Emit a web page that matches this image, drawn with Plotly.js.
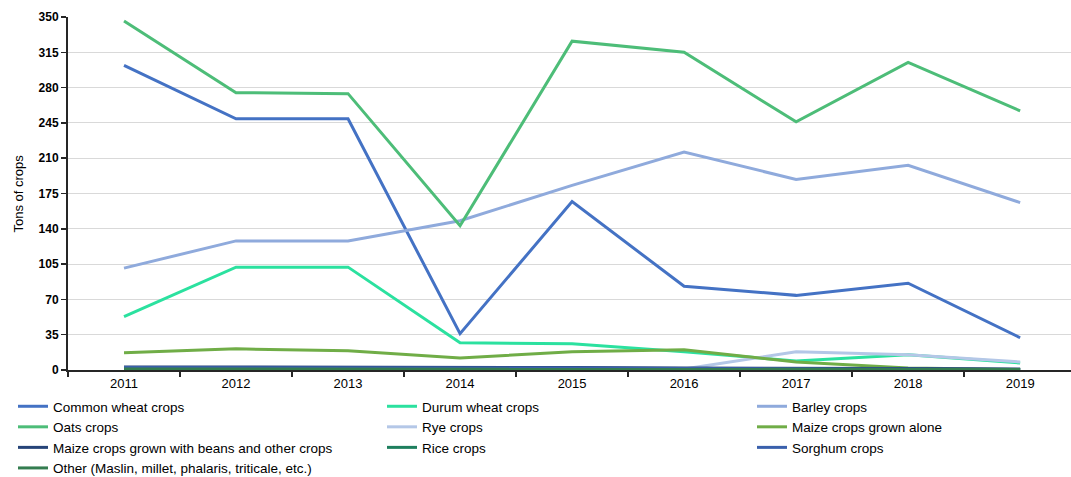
<!DOCTYPE html>
<html>
<head>
<meta charset="utf-8">
<script src="https://cdn.plot.ly/plotly-3.0.1.min.js"></script>
<style>html,body{margin:0;padding:0;background:#fff;}#chart{width:1071px;height:477px;}</style>
</head>
<body>
<div id="chart"></div>
<script>
const years = ["2011","2012","2013","2014","2015","2016","2017","2018","2019"];
const commonWheat = [302, 249, 249, 36, 167, 83, 74, 86, 32];
const durumWheat = [53, 102, 102, 27, 26, 18, 9, 15, 7];
const barley = [101, 128, 128, 148, 183, 216, 189, 203, 166];
const oats = [346, 275, 274, 143, 326, 315, 246, 305, 257];
const rye = [1, 1, 1, 1, 1, 1, 18, 15, 8];
const maizeAlone = [17, 21, 19, 12, 18, 20, 8, 2, 0.5];
const maizeBeans = [3, 3, 3, 3, 2.5, 2, 2, 1.5, 1];
const rice = [0.5, 0.5, 0.5, 0.5, 0.5, 0.5, 0.5, 0.5, 0.5];
const sorghum = [2.5, 2.5, 2.5, 2.5, 2, 1.5, 1, 1, 0.5];
const other = [1, 1, 1, 1, 1, 1, 0.5, 0.5, 0.5];
const yTicks = [0, 35, 70, 105, 140, 175, 210, 245, 280, 315, 350];
const yTitle = "Tons of crops";

const series = [
  ["Common wheat crops", commonWheat, "#4472C4"],
  ["Durum wheat crops", durumWheat, "#2BE19F"],
  ["Barley crops", barley, "#8FAADC"],
  ["Oats crops", oats, "#4DBD78"],
  ["Rye crops", rye, "#B4C7E7"],
  ["Maize crops grown alone", maizeAlone, "#70AD47"],
  ["Maize crops grown with beans and other crops", maizeBeans, "#264478"],
  ["Rice crops", rice, "#1E7F5E"],
  ["Sorghum crops", sorghum, "#3A60AC"],
  ["Other (Maslin, millet, phalaris, triticale, etc.)", other, "#347D50"]
];

const legendIds = ["legend", "legend2", "legend3"];
const traces = series.map((s, i) => ({
  type: "scatter", mode: "lines", name: s[0], x: years, y: s[1],
  line: {color: s[2], width: 3},
  legend: legendIds[i % 3]
}));

function legendAt(px) {
  return {
    orientation: "v", xref: "container", yref: "container",
    x: px / 1071, y: 1 - 391 / 477, xanchor: "left", yanchor: "top",
    font: {size: 13.5, color: "#000"}, itemwidth: 30, tracegroupgap: 0,
    bgcolor: "rgba(0,0,0,0)", borderwidth: 0
  };
}

const layout = {
  width: 1071, height: 477,
  margin: {l: 68, r: 0, t: 17, b: 107, autoexpand: false},
  paper_bgcolor: "#fff", plot_bgcolor: "#fff",
  font: {family: "Liberation Sans, Arial, sans-serif", color: "#000"},
  showlegend: true,
  xaxis: {
    type: "category", range: [-0.5, 8.454],
    showgrid: false, showline: true, linecolor: "#262626", linewidth: 2,
    ticks: "outside", tickson: "boundaries", ticklen: 5, tickcolor: "#262626", tickwidth: 1.5,
    tickfont: {size: 13, color: "#000"}, zeroline: false, tickangle: 0
  },
  yaxis: {
    range: [0, 350], tickvals: yTicks, ticktext: yTicks.map(String),
    showgrid: true, gridcolor: "#D9D9D9", gridwidth: 1,
    showline: true, linecolor: "#262626", linewidth: 2,
    ticks: "outside", ticklen: 5, tickcolor: "#262626", tickwidth: 1.5,
    tickfont: {size: 12, color: "#000", weight: "bold"},
    zeroline: false
  },
  annotations: [{
    text: yTitle, xref: "paper", yref: "paper", x: -50 / 1003, y: 0.5,
    xanchor: "center", yanchor: "middle", textangle: -90, showarrow: false,
    font: {size: 13, color: "#000"}
  }],
  legend: legendAt(13),
  legend2: legendAt(382),
  legend3: legendAt(752)
};

Plotly.newPlot("chart", traces, layout, {displayModeBar: false, staticPlot: true});
</script>
</body>
</html>
